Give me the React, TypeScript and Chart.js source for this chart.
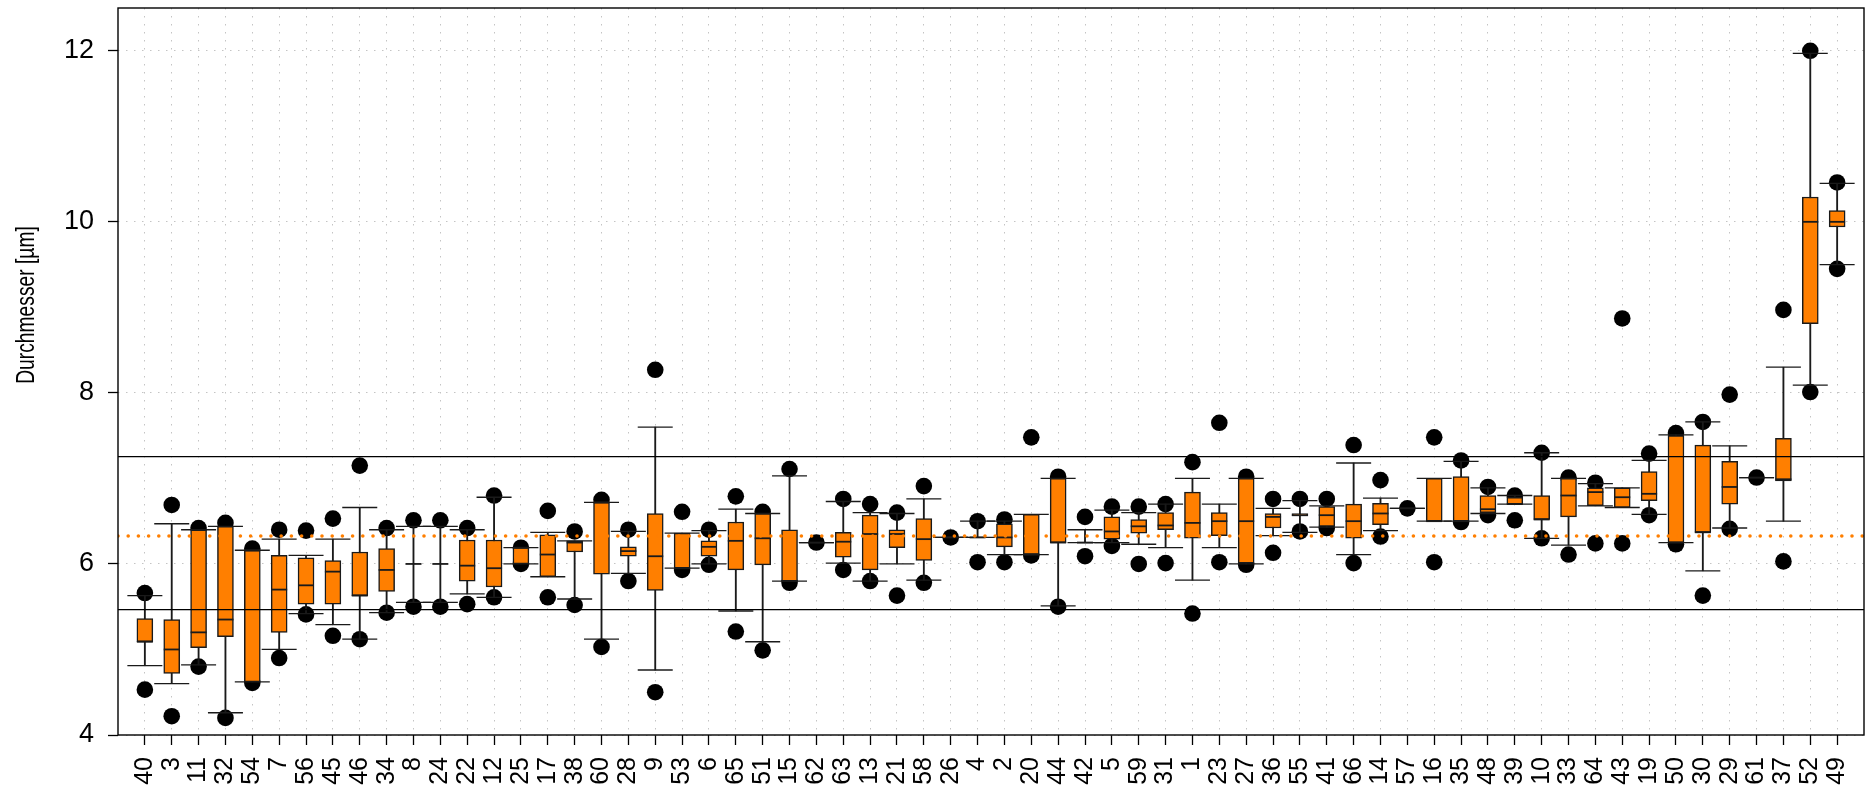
import React, { useEffect, useRef } from 'react';
import { Chart, registerables } from 'chart.js';

Chart.register(...registerables);

const categories = ['40','3','11','32','54','7','56','45','46','34','8','24','22','12','25','17','38','60','28','9','53','6','65','51','15','62','63','13','21','58','26','4','2','20','44','42','5','59','31','1','23','27','36','55','41','66','14','57','16','35','48','39','10','33','64','43','19','50','30','29','61','37','52','49'];

const lowCap = [4.81,4.60,4.82,4.26,4.62,5.00,5.42,5.29,5.12,5.43,5.55,5.55,5.65,5.61,6.00,5.85,5.59,5.12,5.89,4.76,5.95,6.00,5.45,5.09,5.80,6.25,6.01,5.80,6.00,5.81,6.31,6.31,6.11,6.11,5.51,6.25,6.25,6.23,6.19,5.81,6.19,6.00,6.33,6.37,6.43,6.11,6.39,6.65,6.50,6.50,6.59,6.70,6.30,6.22,6.68,6.66,6.58,6.25,5.92,6.42,7.01,6.50,8.09,9.50];
const q1 = [5.09,4.72,5.02,5.15,4.62,5.20,5.53,5.53,5.63,5.68,6.00,6.00,5.80,5.73,6.00,5.85,6.14,5.88,6.09,5.69,5.95,6.09,5.93,5.99,5.80,6.25,6.08,5.93,6.19,6.04,6.31,6.31,6.20,6.11,6.25,6.25,6.29,6.36,6.40,6.30,6.33,6.01,6.42,6.56,6.44,6.30,6.46,6.65,6.50,6.50,6.60,6.70,6.52,6.55,6.68,6.66,6.74,6.25,6.37,6.70,7.01,6.97,8.81,9.94];
const median = [5.09,5.00,5.20,5.35,6.16,5.70,5.75,5.91,5.63,5.93,6.00,6.00,5.98,5.95,6.19,6.11,6.25,6.72,6.15,6.09,5.95,6.20,6.27,6.30,5.80,6.25,6.26,6.35,6.35,6.29,6.31,6.31,6.31,6.11,6.25,6.25,6.38,6.44,6.45,6.48,6.50,6.50,6.55,6.57,6.57,6.50,6.59,6.65,6.50,6.50,6.64,6.70,6.52,6.80,6.84,6.78,6.82,6.25,6.37,6.90,7.01,6.99,10.00,10.00];
const q3 = [5.36,5.35,6.40,6.44,6.16,6.10,6.07,6.04,6.14,6.18,6.00,6.00,6.28,6.28,6.19,6.34,6.27,6.72,6.20,6.59,6.36,6.27,6.49,6.59,6.40,6.25,6.37,6.57,6.40,6.53,6.31,6.31,6.47,6.58,7.00,6.25,6.55,6.52,6.60,6.84,6.60,7.00,6.59,6.59,6.67,6.70,6.71,6.65,7.00,7.02,6.80,6.78,6.80,7.00,6.89,6.89,7.08,7.50,7.39,7.20,7.01,7.47,10.29,10.13];
const highCap = [5.63,6.47,6.40,6.44,6.16,6.29,6.10,6.29,6.66,6.40,6.44,6.44,6.40,6.78,6.19,6.37,6.27,6.72,6.38,7.60,6.36,6.39,6.64,6.59,7.03,6.25,6.73,6.60,6.59,6.76,6.31,6.50,6.50,6.58,7.00,6.40,6.63,6.60,6.70,7.00,6.70,7.00,6.65,6.74,6.68,7.18,6.77,6.65,7.00,7.20,6.89,6.80,7.30,7.00,6.94,6.89,7.21,7.51,7.66,7.38,7.01,8.30,11.97,10.45];
const outlierHigh = [5.66,6.69,6.42,6.48,6.18,6.40,6.39,6.53,7.15,6.42,6.51,6.51,6.42,6.80,6.19,6.62,6.38,6.75,6.40,8.27,6.61,6.40,6.79,6.61,7.11,6.25,6.76,6.70,6.60,6.91,6.31,6.50,6.52,7.48,7.02,6.55,6.67,6.67,6.70,7.19,7.65,7.02,6.76,6.76,6.76,7.39,6.98,6.65,7.48,7.21,6.90,6.80,7.30,7.01,6.95,8.87,7.29,7.53,7.66,7.98,7.01,8.97,12.00,10.46];
const outlierLow = [4.53,4.22,4.80,4.20,4.61,4.90,5.41,5.16,5.12,5.43,5.50,5.50,5.53,5.61,6.00,5.61,5.52,5.03,5.80,4.50,5.93,5.99,5.21,4.99,5.78,null,5.93,5.80,5.63,5.78,null,6.02,6.02,6.10,5.50,6.09,6.21,6.00,6.01,5.42,6.02,5.99,6.13,6.38,6.42,6.01,6.32,null,6.02,6.49,6.57,6.51,6.30,6.11,6.24,6.24,6.57,6.23,5.63,6.41,null,6.03,8.01,9.45];

const yTicks = [4, 6, 8, 10, 12];
const upperLimit = 7.255;
const lowerLimit = 5.466;
const meanValue = 6.327;
const yTitle = 'Durchmesser [µm]';

const FONT = '"Liberation Sans", Arial, Helvetica, sans-serif';
const ORANGE = '#ff7f00';
const DARK = '#1a1a1a';

const xs = categories.map((_, i) => i + 1);

const framePlugin = {
  id: 'frameAndTitle',
  afterDraw(chart: any) {
    const { ctx, chartArea } = chart;
    ctx.save();
    ctx.strokeStyle = '#000';
    ctx.lineWidth = 1.4;
    ctx.strokeRect(chartArea.left, chartArea.top, chartArea.right - chartArea.left, chartArea.bottom - chartArea.top);
    ctx.translate(27, 305);
    ctx.rotate(-Math.PI / 2);
    ctx.scale(0.77, 1);
    ctx.font = `25px ${FONT}`;
    ctx.fillStyle = '#000';
    ctx.textAlign = 'center';
    ctx.textBaseline = 'middle';
    ctx.fillText(yTitle, 0, 0);
    ctx.restore();
  },
};

export default function App() {
  const ref = useRef<HTMLCanvasElement | null>(null);

  useEffect(() => {
    document.body.style.margin = '0';
    if (!ref.current) return;

    const dots: any[] = [];
    xs.forEach((x, i) => {
      if (outlierHigh[i] != null) dots.push({ x, y: outlierHigh[i] });
      if (outlierLow[i] != null) dots.push({ x, y: outlierLow[i] });
    });
    const caps: any[] = [];
    xs.forEach((x, i) => {
      caps.push({ x, y: lowCap[i] });
      caps.push({ x, y: highCap[i] });
    });

    const gridCommon = {
      color: '#c4c4c4',
      lineWidth: 1,
      drawTicks: true,
      tickLength: 10,
      tickColor: '#000',
      tickWidth: 1.3,
      tickBorderDash: [],
      offset: false,
    };

    const chart = new Chart(ref.current, {
      type: 'scatter',
      data: {
        datasets: [
          {
            type: 'line',
            label: 'mean',
            data: [{ x: 0, y: meanValue }, { x: 65, y: meanValue }],
            borderColor: ORANGE,
            borderWidth: 3.6,
            borderDash: [0, 10.2],
            borderCapStyle: 'round',
            pointRadius: 0,
            fill: false,
            order: 1,
          },
          {
            type: 'line',
            label: 'upper',
            data: [{ x: 0, y: upperLimit }, { x: 65, y: upperLimit }],
            borderColor: '#000',
            borderWidth: 1.4,
            pointRadius: 0,
            fill: false,
            order: 2,
          },
          {
            type: 'line',
            label: 'lower',
            data: [{ x: 0, y: lowerLimit }, { x: 65, y: lowerLimit }],
            borderColor: '#000',
            borderWidth: 1.4,
            pointRadius: 0,
            fill: false,
            order: 2,
          },
          {
            type: 'scatter',
            label: 'median',
            data: xs.map((x, i) => ({ x, y: median[i] })),
            pointStyle: 'line',
            pointRadius: 8,
            borderColor: DARK,
            borderWidth: 1.8,
            order: 3,
          },
          {
            type: 'bar',
            label: 'box',
            data: xs.map((x, i) => ({ x, y: [q1[i], q3[i]] })),
            backgroundColor: ORANGE,
            borderColor: DARK,
            borderWidth: 1.5,
            borderSkipped: false,
            grouped: false,
            barThickness: 16,
            order: 4,
          },
          {
            type: 'scatter',
            label: 'caps',
            data: caps,
            pointStyle: 'line',
            pointRadius: 17.5,
            borderColor: DARK,
            borderWidth: 1.3,
            order: 5,
          },
          {
            type: 'bar',
            label: 'whisker',
            data: xs.map((x, i) => ({ x, y: [lowCap[i], highCap[i]] })),
            backgroundColor: DARK,
            borderWidth: 0,
            grouped: false,
            barThickness: 1.2,
            order: 6,
          },
          {
            type: 'scatter',
            label: 'extremes',
            data: dots,
            pointStyle: 'circle',
            pointRadius: 8.3,
            backgroundColor: '#000',
            borderWidth: 0,
            order: 7,
          },
        ] as any,
      },
      options: {
        responsive: false,
        animation: false,
        devicePixelRatio: 1,
        events: [],
        layout: { autoPadding: false, padding: { top: 8, right: 4, left: 0, bottom: 0 } },
        plugins: { legend: { display: false }, tooltip: { enabled: false } },
        scales: {
          x: {
            type: 'linear',
            min: 0,
            max: 65,
            offset: false,
            afterBuildTicks: (s: any) => {
              s.ticks = xs.map((v) => ({ value: v }));
            },
            afterFit: (s: any) => {
              s.height = 60;
              s.paddingLeft = 0;
              s.paddingRight = 0;
            },
            grid: gridCommon,
            border: { display: false, dash: [1.5, 6.5] },
            ticks: {
              autoSkip: false,
              maxRotation: 90,
              minRotation: 90,
              padding: 12,
              color: '#000',
              font: { family: FONT, size: 25 },
              callback: (v: any) => categories[Math.round(Number(v)) - 1] ?? '',
            },
          },
          y: {
            type: 'linear',
            min: 4,
            max: 12.5,
            afterBuildTicks: (s: any) => {
              s.ticks = yTicks.map((v) => ({ value: v }));
            },
            afterFit: (s: any) => {
              s.width = 118;
              s.paddingTop = 0;
              s.paddingBottom = 0;
            },
            grid: gridCommon,
            border: { display: false, dash: [1.5, 6.5] },
            ticks: {
              padding: 14,
              color: '#000',
              font: { family: FONT, size: 27 },
              callback: (v: any) => String(v),
            },
          },
        },
      } as any,
      plugins: [framePlugin],
    });

    return () => chart.destroy();
  }, []);

  return (
    <div style={{ width: 1868, height: 795 }}>
      <canvas ref={ref} width={1868} height={795} style={{ display: 'block' }} />
    </div>
  );
}
